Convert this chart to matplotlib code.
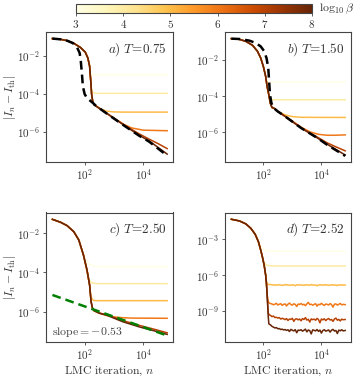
import numpy as np
import matplotlib
matplotlib.use("Agg")
import matplotlib.pyplot as plt
from matplotlib.colors import Normalize
from matplotlib.ticker import NullLocator

plt.rcParams['font.family'] = 'serif'
plt.rcParams['font.serif'] = ['cmr10', 'DejaVu Serif']
plt.rcParams['mathtext.fontset'] = 'cm'
plt.rcParams['axes.formatter.use_mathtext'] = True
plt.rcParams['text.color'] = '#333333'

# log10(beta) of each curve
betas = [3, 4, 5, 6, 7, 8]

# --- all values below are log10(n) and log10|I_n - I_th| ---

# a) T=0.75 : shared descent, then each beta leaves it after a_cut points
a_desc_n = [0.90, 1.18, 1.40, 1.63, 1.85, 2.02, 2.11, 2.17, 2.21, 2.24, 2.28, 2.32, 2.36]
a_desc_y = [-1.10, -1.14, -1.21, -1.35, -1.56, -1.81, -2.12, -2.55, -3.35, -4.05, -4.44, -4.58, -4.62]
a_cut = [8, 9, 13, 13, 13, 13]
a_tail_n = [[2.20, 2.23, 2.27, 2.33, 2.45, 4.82],
            [2.235, 2.26, 2.30, 2.38, 2.50, 4.82],
            [2.50, 2.75, 3.00, 3.30, 4.82],
            [2.75, 3.10, 3.35, 3.60, 4.00, 4.82],
            [2.75, 3.31, 3.87, 4.20, 4.50, 4.82],
            [2.75, 3.31, 3.87, 4.20, 4.82]]
a_tail_y = [[-2.82, -2.94, -2.98, -3.00, -3.00, -3.00],
            [-3.75, -3.90, -3.96, -3.98, -3.98, -3.98],
            [-4.77, -4.92, -4.96, -4.97, -4.97],
            [-5.03, -5.38, -5.62, -5.80, -5.92, -5.95],
            [-5.03, -5.61, -6.12, -6.39, -6.62, -6.89],
            [-5.03, -5.62, -6.20, -6.48, -7.18]]
a_dash_n = [0.90, 1.18, 1.40, 1.60, 1.74, 1.83, 1.87, 1.91, 1.94, 2.00, 2.08, 2.19, 2.30,
            2.38, 2.75, 3.31, 3.87, 4.20, 4.82]
a_dash_y = [-1.10, -1.14, -1.21, -1.34, -1.56, -1.86, -2.30, -3.00, -3.61, -4.02, -4.23,
            -4.37, -4.51, -4.63, -5.04, -5.64, -6.22, -6.52, -7.26]

# b) T=1.50
b_desc_n = [0.90, 1.18, 1.40, 1.63, 1.80, 1.91, 2.00, 2.08, 2.13, 2.19, 2.24, 2.30, 2.36]
b_desc_y = [-0.83, -0.87, -0.98, -1.20, -1.53, -1.90, -2.36, -2.91, -3.47, -3.93, -4.39, -4.63, -4.66]
b_cut = [8, 10, 13, 13, 13, 13]
b_tail_n = [[2.12, 2.16, 2.22, 2.30, 4.82],
            [2.22, 2.26, 2.32, 2.45, 4.82],
            [2.50, 2.75, 3.00, 3.30, 4.82],
            [2.50, 2.75, 3.31, 3.60, 3.90, 4.20, 4.50, 4.82],
            [2.50, 2.75, 3.31, 3.87, 4.20, 4.50, 4.82],
            [2.50, 2.75, 3.31, 3.87, 4.20, 4.82]]
b_tail_y = [[-3.12, -3.20, -3.225, -3.23, -3.23],
            [-4.12, -4.18, -4.20, -4.20, -4.20],
            [-4.84, -5.04, -5.13, -5.17, -5.18],
            [-4.85, -5.10, -5.72, -5.97, -6.11, -6.16, -6.16, -6.14],
            [-4.85, -5.12, -5.76, -6.27, -6.58, -6.80, -7.02],
            [-4.85, -5.12, -5.77, -6.32, -6.66, -7.25]]
b_dash_n = [0.90, 1.18, 1.52, 1.74, 1.91, 2.02, 2.11, 2.17, 2.20, 2.23, 2.28, 2.33, 2.36,
            2.50, 2.75, 3.31, 3.87, 4.20, 4.82]
b_dash_y = [-0.83, -0.85, -0.94, -1.07, -1.26, -1.50, -1.90, -2.45, -3.19, -3.93, -4.39,
            -4.59, -4.66, -4.85, -5.12, -5.77, -6.32, -6.69, -7.30]

# c) T=2.50
c_desc_n = [0.90, 1.18, 1.40, 1.63, 1.80, 1.96, 2.08, 2.17, 2.22, 2.27, 2.32]
c_desc_y = [-1.29, -1.44, -1.61, -1.92, -2.34, -3.11, -3.87, -4.64, -5.49, -5.83, -5.95]
c_cut = [5, 6, 8, 11, 11, 11]
c_tail_n = [[1.88, 1.96, 2.05, 2.15, 2.30, 2.50, 4.82],
            [2.04, 2.10, 2.16, 2.24, 2.40, 4.82],
            [2.21, 2.25, 2.31, 2.45, 4.82],
            [2.50, 2.75, 3.00, 3.30, 3.60, 4.82],
            [2.50, 2.75, 3.31, 3.87, 4.43, 4.82],
            [2.50, 2.75, 3.31, 3.87, 4.43, 4.82]]
c_tail_y = [[-2.72, -3.05, -3.38, -3.58, -3.67, -3.70, -3.70],
            [-3.72, -4.12, -4.40, -4.53, -4.57, -4.57],
            [-5.15, -5.36, -5.43, -5.44, -5.44],
            [-6.08, -6.20, -6.27, -6.31, -6.33, -6.34],
            [-6.07, -6.16, -6.46, -6.70, -6.92, -7.08],
            [-6.08, -6.18, -6.52, -6.78, -7.00, -7.16]]
c_fit_n = [0.90, 4.82]
c_fit_y = [-5.15, -7.22]

# d) T=2.52
d_desc_n = [0.90, 1.18, 1.40, 1.57, 1.72, 1.83, 1.91, 1.97, 2.03, 2.08, 2.11, 2.13, 2.15,
            2.17, 2.19]
d_desc_y = [-1.32, -1.46, -1.71, -2.08, -2.58, -3.20, -3.90, -4.50, -5.20, -6.00, -6.80,
            -7.60, -8.50, -9.50, -10.10]
d_cut = [6, 8, 10, 12, 13, 15]
d_tail_n = [[1.88, 1.95, 2.02, 2.10, 2.25, 2.50, 4.82],
            [2.01, 2.06, 2.12, 2.22, 2.40, 4.82],
            [2.11, 2.15, 2.20],
            [2.16, 2.19, 2.22],
            [2.17, 2.20, 2.22],
            [2.22]]
d_tail_y = [[-3.45, -3.70, -3.87, -3.96, -4.00, -4.01, -4.01],
            [-4.85, -5.08, -5.18, -5.22, -5.24, -5.24],
            [-6.55, -6.76, -6.81],
            [-8.15, -8.33, -8.38],
            [-9.20, -9.33, -9.37],
            [-10.15]]
# noisy plateaus of beta = 5..8
d_noise_n = [2.25, 2.30, 2.35, 2.40, 2.45, 2.50, 2.55, 2.60, 2.65, 2.70,
             2.75, 2.80, 2.85, 2.90, 2.95, 3.00, 3.05, 3.10, 3.15, 3.20,
             3.25, 3.30, 3.35, 3.40, 3.45, 3.50, 3.55, 3.60, 3.65, 3.70,
             3.75, 3.80, 3.85, 3.90, 3.95, 4.00, 4.05, 4.10, 4.15, 4.20,
             4.25, 4.30, 4.35, 4.40, 4.45, 4.50, 4.55, 4.60, 4.65, 4.70,
             4.75, 4.82]
d_noise_b5 = [-6.80, -6.83, -6.85, -6.83, -6.86, -6.84, -6.81, -6.85, -6.88, -6.83,
              -6.84, -6.80, -6.86, -6.84, -6.87, -6.82, -6.85, -6.90, -6.83, -6.84,
              -6.81, -6.86, -6.84, -6.88, -6.82, -6.85, -6.83, -6.87, -6.80, -6.84,
              -6.86, -6.83, -6.91, -6.84, -6.82, -6.85, -6.83, -6.86, -6.81, -6.84,
              -6.88, -6.83, -6.85, -6.82, -6.86, -6.84, -6.89, -6.83, -6.85, -6.81,
              -6.86, -6.84]
d_noise_b6 = [-8.40, -8.44, -8.50, -8.45, -8.38, -8.52, -8.46, -8.41, -8.55, -8.47,
              -8.43, -8.60, -8.45, -8.36, -8.49, -8.53, -8.42, -8.47, -8.65, -8.44,
              -8.48, -8.39, -8.51, -8.46, -8.58, -8.43, -8.30, -8.49, -8.45, -8.54,
              -8.47, -8.41, -8.62, -8.46, -8.50, -8.38, -8.48, -8.56, -8.44, -8.47,
              -8.52, -8.40, -8.49, -8.70, -8.45, -8.43, -8.53, -8.46, -8.39, -8.51,
              -8.47, -8.49]
d_noise_b7 = [-9.40, -9.50, -9.45, -9.58, -9.55, -9.62, -9.58, -9.70, -9.64, -9.68,
              -9.75, -9.66, -9.82, -9.70, -9.73, -9.64, -9.90, -9.71, -9.68, -9.77,
              -9.70, -9.85, -9.66, -9.74, -9.58, -9.79, -9.72, -9.95, -9.69, -9.75,
              -9.71, -9.80, -9.65, -9.74, -10.02, -9.70, -9.77, -9.68, -9.83, -9.72,
              -9.66, -9.78, -9.74, -9.90, -9.70, -9.62, -9.80, -9.73, -9.86, -9.71,
              -9.76, -9.74]
d_noise_b8 = [-10.20, -10.32, -10.38, -10.45, -10.42, -10.52, -10.50, -10.58, -10.55, -10.62,
              -10.58, -10.66, -10.60, -10.75, -10.57, -10.64, -10.70, -10.59, -10.85, -10.63,
              -10.66, -10.60, -10.72, -10.64, -10.55, -10.78, -10.62, -10.68, -10.95, -10.61,
              -10.65, -10.70, -10.58, -10.74, -10.63, -10.88, -10.66, -10.60, -10.72, -10.67,
              -10.62, -10.80, -10.64, -10.57, -10.71, -10.66, -10.92, -10.63, -10.69, -10.60,
              -10.70, -10.66]
d_noise_y = [None, None, d_noise_b5, d_noise_b6, d_noise_b7, d_noise_b8]

titles = [r'$a)\;T\!=\!0.75$', r'$b)\;T\!=\!1.50$', r'$c)\;T\!=\!2.50$', r'$d)\;T\!=\!2.52$']
ylims = [(-7.58, -0.77), (-7.62, -0.48), (-7.55, -0.94), (-11.63, -0.75)]
yticks = [[-6, -4, -2], [-6, -4, -2], [-6, -4, -2], [-9, -6, -3]]

cmap = plt.cm.YlOrBr
norm = Normalize(3, 8)

fig = plt.figure(figsize=(3.57, 3.77), dpi=100)
W, H = 357.0, 377.0
ax_a = fig.add_axes([46 / W, 1 - 161.7 / H, 127 / W, 129.4 / H])
ax_b = fig.add_axes([225 / W, 1 - 161.7 / H, 126 / W, 129.4 / H])
ax_c = fig.add_axes([46 / W, 1 - 342 / H, 127 / W, 129.5 / H])
ax_d = fig.add_axes([225 / W, 1 - 342 / H, 126 / W, 129.5 / H])
cax = fig.add_axes([76 / W, 1 - 12.7 / H, 236 / W, 8.4 / H])
axes = [ax_a, ax_b, ax_c, ax_d]

panels = [(a_desc_n, a_desc_y, a_cut, a_tail_n, a_tail_y),
          (b_desc_n, b_desc_y, b_cut, b_tail_n, b_tail_y),
          (c_desc_n, c_desc_y, c_cut, c_tail_n, c_tail_y),
          (d_desc_n, d_desc_y, d_cut, d_tail_n, d_tail_y)]

for k, (ax, (dn, dy, cut, tn, ty)) in enumerate(zip(axes, panels)):
    for i, b in enumerate(betas):
        ln = list(dn[:cut[i]]) + list(tn[i])
        ly = list(dy[:cut[i]]) + list(ty[i])
        if k == 3 and d_noise_y[i] is not None:
            ln += d_noise_n
            ly += d_noise_y[i]
        ax.plot(10.0 ** np.array(ln), 10.0 ** np.array(ly), color=cmap(norm(b)), lw=1.1)

ax_a.plot(10.0 ** np.array(a_dash_n), 10.0 ** np.array(a_dash_y), color='k', lw=1.8,
          ls=(0, (3.5, 2)))
ax_b.plot(10.0 ** np.array(b_dash_n), 10.0 ** np.array(b_dash_y), color='k', lw=1.8,
          ls=(0, (3.5, 2)))
ax_c.plot(10.0 ** np.array(c_fit_n), 10.0 ** np.array(c_fit_y), color='green', lw=1.8,
          ls=(0, (3.5, 2)))
ax_c.text(0.05, 0.08, r'slope$=$$-0.53$', transform=ax_c.transAxes, fontsize=8.5,
          color='#444444', va='center')

for k, ax in enumerate(axes):
    ax.set_xscale('log')
    ax.set_yscale('log')
    ax.set_xlim(10 ** 0.68, 10 ** 5.02)
    ax.set_ylim(10.0 ** ylims[k][0], 10.0 ** ylims[k][1])
    ax.set_xticks([1e2, 1e4])
    ax.set_yticks([10.0 ** t for t in yticks[k]])
    ax.xaxis.set_minor_locator(NullLocator())
    ax.yaxis.set_minor_locator(NullLocator())
    ax.tick_params(labelsize=8, length=2.5, width=0.6, pad=1.5, color='#444444',
                   labelcolor='#333333')
    for s in ax.spines.values():
        s.set_color('#444444')
        s.set_linewidth(0.8)
    ax.text(0.95, 0.87, titles[k], transform=ax.transAxes, ha='right', va='center',
            fontsize=9.5, color='#333333')

for ax in (ax_a, ax_c):
    ax.set_ylabel(r'$|I_n - I_{\rm th}|$', fontsize=8.5, color='#333333')
    ax.yaxis.set_label_coords(-0.22, 0.5)
for ax in (ax_c, ax_d):
    ax.set_xlabel(r'LMC iteration, $n$', fontsize=8.5, color='#333333', labelpad=1.5)

sm = plt.cm.ScalarMappable(norm=norm, cmap=cmap)
cb = fig.colorbar(sm, cax=cax, orientation='horizontal', ticks=betas)
cb.ax.tick_params(labelsize=8, length=2.5, width=0.6, pad=1.5, color='#444444',
                  labelcolor='#333333')
cb.outline.set_edgecolor('#444444')
cb.outline.set_linewidth(0.8)
cax.text(1.03, 0.5, r'$\log_{10}\beta$', transform=cax.transAxes, ha='left', va='center',
         fontsize=8.5, color='#333333')

fig.savefig('out.png', dpi=100)
